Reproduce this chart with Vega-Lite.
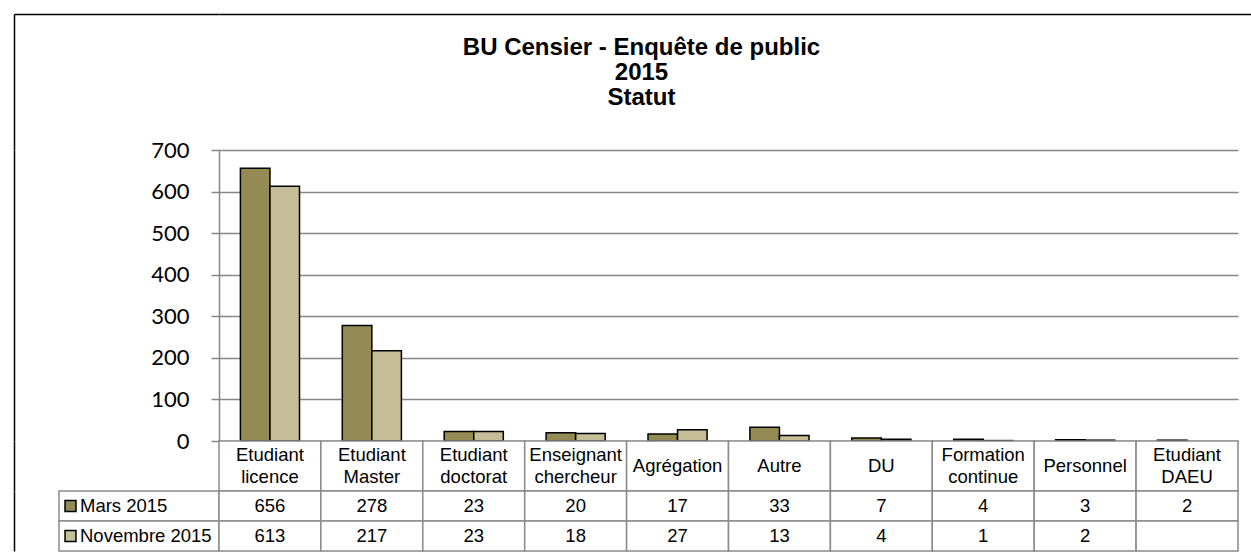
{
  "$schema": "https://vega.github.io/schema/vega-lite/v6.json",
  "background": "white",
  "padding": {"left": 11, "top": 14, "right": 0, "bottom": 0},
  "autosize": {"type": "pad"},
  "columns": 2,
  "spacing": 0,
  "bounds": "flush",
  "align": "each",
  "datasets": {
    "counts": [
      {"cat": "Etudiant licence", "serie": "Mars 2015", "value": 656},
      {"cat": "Etudiant Master", "serie": "Mars 2015", "value": 278},
      {"cat": "Etudiant doctorat", "serie": "Mars 2015", "value": 23},
      {"cat": "Enseignant chercheur", "serie": "Mars 2015", "value": 20},
      {"cat": "Agrégation", "serie": "Mars 2015", "value": 17},
      {"cat": "Autre", "serie": "Mars 2015", "value": 33},
      {"cat": "DU", "serie": "Mars 2015", "value": 7},
      {"cat": "Formation continue", "serie": "Mars 2015", "value": 4},
      {"cat": "Personnel", "serie": "Mars 2015", "value": 3},
      {"cat": "Etudiant DAEU", "serie": "Mars 2015", "value": 2},
      {"cat": "Etudiant licence", "serie": "Novembre 2015", "value": 613},
      {"cat": "Etudiant Master", "serie": "Novembre 2015", "value": 217},
      {"cat": "Etudiant doctorat", "serie": "Novembre 2015", "value": 23},
      {"cat": "Enseignant chercheur", "serie": "Novembre 2015", "value": 18},
      {"cat": "Agrégation", "serie": "Novembre 2015", "value": 27},
      {"cat": "Autre", "serie": "Novembre 2015", "value": 13},
      {"cat": "DU", "serie": "Novembre 2015", "value": 4},
      {"cat": "Formation continue", "serie": "Novembre 2015", "value": 1},
      {"cat": "Personnel", "serie": "Novembre 2015", "value": 2},
      {"cat": "Etudiant DAEU", "serie": "Novembre 2015", "value": null}
    ],
    "cats": [
      {"cat": "Etudiant licence"},
      {"cat": "Etudiant Master"},
      {"cat": "Etudiant doctorat"},
      {"cat": "Enseignant chercheur"},
      {"cat": "Agrégation"},
      {"cat": "Autre"},
      {"cat": "DU"},
      {"cat": "Formation continue"},
      {"cat": "Personnel"},
      {"cat": "Etudiant DAEU"}
    ],
    "series": [
      {"serie": "Mars 2015"},
      {"serie": "Novembre 2015"}
    ],
    "blank": [{}]
  },
  "concat": [
    {
      "width": 205,
      "height": 136,
      "data": {"name": "blank"},
      "mark": {"type": "point", "opacity": 0},
      "encoding": {
        "x": {"datum": 0, "type": "quantitative", "scale": {"domain": [0, 1]},
          "axis": {"orient": "top", "domainColor": "#000000", "domainWidth": 1.5, "labels": false, "ticks": false, "grid": false, "title": null}},
        "y": {"datum": 0, "type": "quantitative", "scale": {"domain": [0, 1]},
          "axis": {"orient": "left", "domainColor": "#000000", "domainWidth": 1.5, "labels": false, "ticks": false, "grid": false, "title": null}}
      }
    },
    {
      "width": 1035,
      "height": 136,
      "data": {"name": "blank"},
      "layer": [
        {
          "mark": {"type": "point", "opacity": 0},
          "encoding": {
            "x": {"datum": 0, "type": "quantitative", "scale": {"domain": [0, 1]},
              "axis": {"orient": "top", "domainColor": "#000000", "domainWidth": 1.5, "labels": false, "ticks": false, "grid": false, "title": null}}
          }
        },
        {
          "mark": {
            "type": "text",
            "text": ["BU Censier - Enquête de public", "2015", "Statut"],
            "font": "Liberation Sans",
            "fontWeight": "bold",
            "fontSize": 24,
            "lineHeight": 25,
            "align": "center",
            "baseline": "middle",
            "dx": -95,
            "dy": -34,
            "color": "#000000"
          },
          "encoding": {}
        }
      ]
    },
    {
      "width": 205,
      "height": 291,
      "data": {"name": "blank"},
      "mark": {"type": "point", "opacity": 0},
      "encoding": {
        "y": {"datum": 0, "type": "quantitative", "scale": {"domain": [0, 1]},
          "axis": {"orient": "left", "domainColor": "#000000", "domainWidth": 1.5, "labels": false, "ticks": false, "grid": false, "title": null}}
      }
    },
    {
      "width": 1019,
      "height": 291,
      "data": {"name": "counts"},
      "transform": [{"filter": "datum.value != null"}],
      "mark": {"type": "bar", "stroke": "#000000", "strokeWidth": 1.5},
      "encoding": {
        "x": {"field": "cat", "type": "nominal", "sort": null,
          "scale": {"domain": ["Etudiant licence", "Etudiant Master", "Etudiant doctorat", "Enseignant chercheur", "Agrégation", "Autre", "DU", "Formation continue", "Personnel", "Etudiant DAEU"], "paddingInner": 0.42, "paddingOuter": 0.21},
          "axis": null},
        "xOffset": {"field": "serie", "type": "nominal",
          "scale": {"domain": ["Mars 2015", "Novembre 2015"], "paddingInner": 0, "paddingOuter": 0}},
        "y": {"field": "value", "type": "quantitative",
          "scale": {"domain": [0, 700], "nice": false},
          "axis": {"values": [0, 100, 200, 300, 400, 500, 600, 700], "title": null,
            "labelFont": "Lato", "labelFontSize": 22, "labelColor": "#000000", "labelPadding": 22,
            "tickSize": 8, "tickColor": "#868686", "tickWidth": 1.5,
            "domainColor": "#868686", "domainWidth": 1.5,
            "grid": true, "gridColor": "#868686", "gridWidth": 1.5}},
        "color": {"field": "serie", "type": "nominal",
          "scale": {"domain": ["Mars 2015", "Novembre 2015"], "range": ["#948A54", "#C4BD97"]},
          "legend": null}
      }
    },
    {
      "width": 205,
      "height": 50,
      "data": {"name": "blank"},
      "mark": {"type": "point", "opacity": 0},
      "encoding": {
        "y": {"datum": 0, "type": "quantitative", "scale": {"domain": [0, 1]},
          "axis": {"orient": "left", "domainColor": "#000000", "domainWidth": 1.5, "labels": false, "ticks": false, "grid": false, "title": null}}
      }
    },
    {
      "width": 1019,
      "height": 50,
      "data": {"name": "cats"},
      "encoding": {
        "x": {"field": "cat", "type": "nominal", "sort": null,
          "scale": {"domain": ["Etudiant licence", "Etudiant Master", "Etudiant doctorat", "Enseignant chercheur", "Agrégation", "Autre", "DU", "Formation continue", "Personnel", "Etudiant DAEU"], "paddingInner": 0, "paddingOuter": 0},
          "axis": null}
      },
      "layer": [
        {
          "mark": {"type": "rect", "fill": "#ffffff", "stroke": "#8a8a8a", "strokeWidth": 1.5},
          "encoding": {
            "y": {"datum": "h", "type": "nominal", "scale": {"paddingInner": 0, "paddingOuter": 0}, "axis": null}
          }
        },
        {
          "transform": [{"filter": "indexof(datum.cat, ' ') < 0"}],
          "mark": {"type": "text", "font": "Liberation Sans", "fontSize": 18.5, "align": "center", "baseline": "middle", "color": "#000000"},
          "encoding": {
            "text": {"field": "cat"}
          }
        },
        {
          "transform": [{"filter": "indexof(datum.cat, ' ') >= 0"}],
          "mark": {"type": "text", "lineBreak": " ", "font": "Liberation Sans", "fontSize": 18.5, "lineHeight": 21.5, "align": "center", "baseline": "middle", "dy": -10.75, "color": "#000000"},
          "encoding": {
            "text": {"field": "cat"}
          }
        }
      ]
    },
    {
      "width": 205,
      "height": 60,
      "data": {"name": "series"},
      "encoding": {
        "y": {"field": "serie", "type": "nominal", "sort": null,
          "scale": {"domain": ["Mars 2015", "Novembre 2015"], "paddingInner": 0, "paddingOuter": 0},
          "axis": {"orient": "left", "domainColor": "#000000", "domainWidth": 1.5, "labels": false, "ticks": false, "grid": false, "title": null}}
      },
      "layer": [
        {
          "mark": {"type": "rect", "fill": "#ffffff", "stroke": "#8a8a8a", "strokeWidth": 1.5},
          "encoding": {
            "x": {"datum": "legend", "type": "nominal",
              "scale": {"domain": ["legend"], "paddingInner": 0, "paddingOuter": 0.140625, "align": 1},
              "axis": null}
          }
        },
        {
          "mark": {"type": "point", "shape": "square", "size": 121, "filled": true, "stroke": "#000000", "strokeWidth": 1.5, "opacity": 1, "xOffset": 11.5},
          "encoding": {
            "x": {"datum": "legend", "type": "nominal", "bandPosition": 0, "axis": null},
            "color": {"field": "serie", "type": "nominal",
              "scale": {"domain": ["Mars 2015", "Novembre 2015"], "range": ["#948A54", "#C4BD97"]},
              "legend": null}
          }
        },
        {
          "mark": {"type": "text", "font": "Liberation Sans", "fontSize": 18.5, "align": "left", "baseline": "middle", "dx": 21, "color": "#000000"},
          "encoding": {
            "x": {"datum": "legend", "type": "nominal", "bandPosition": 0, "axis": null},
            "text": {"field": "serie"}
          }
        }
      ]
    },
    {
      "width": 1019,
      "height": 60,
      "data": {"name": "counts"},
      "encoding": {
        "x": {"field": "cat", "type": "nominal", "sort": null,
          "scale": {"domain": ["Etudiant licence", "Etudiant Master", "Etudiant doctorat", "Enseignant chercheur", "Agrégation", "Autre", "DU", "Formation continue", "Personnel", "Etudiant DAEU"], "paddingInner": 0, "paddingOuter": 0},
          "axis": null},
        "y": {"field": "serie", "type": "nominal", "sort": null,
          "scale": {"domain": ["Mars 2015", "Novembre 2015"], "paddingInner": 0, "paddingOuter": 0},
          "axis": null}
      },
      "layer": [
        {
          "mark": {"type": "rect", "fill": "#ffffff", "stroke": "#8a8a8a", "strokeWidth": 1.5}
        },
        {
          "transform": [{"filter": "datum.value != null"}],
          "mark": {"type": "text", "font": "Liberation Sans", "fontSize": 18.5, "align": "center", "baseline": "middle", "color": "#000000"},
          "encoding": {
            "text": {"field": "value", "type": "quantitative", "format": "d"}
          }
        }
      ]
    }
  ],
  "config": {
    "view": {"stroke": null},
    "font": "Liberation Sans"
  }
}
